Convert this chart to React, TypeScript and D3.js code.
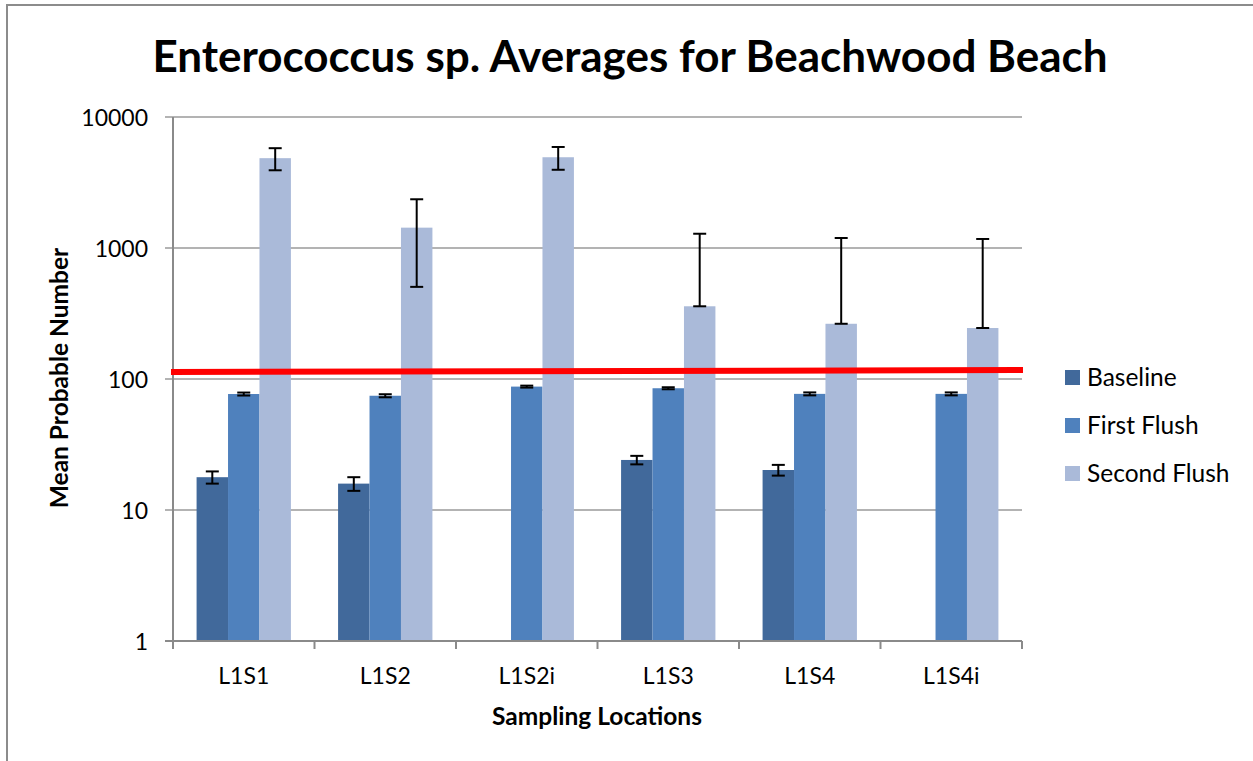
import React, { useEffect, useRef } from "react";
import * as d3 from "d3";

// chart data
const categories = ["L1S1", "L1S2", "L1S2i", "L1S3", "L1S4", "L1S4i"];
const seriesNames = ["Baseline", "First Flush", "Second Flush"];
const baseline = [17.8, 15.9, null, 24.1, 20.2, null];
const baselineErr = [1.9, 1.9, null, 1.8, 1.9, null];
const firstFlush = [76.8, 74.5, 87.5, 85, 77, 77];
const firstFlushErr = [2, 2, 1.5, 1.5, 2, 2];
const secondFlush = [4850, 1430, 4930, 359, 264, 245];
const secondFlushErr = [930, 925, 975, 926, 928, 927];
const yTicks = [1, 10, 100, 1000, 10000];
// red reference line (start value, end value)
const limitLine = [113, 117];

const colors = ["#41699b", "#4f81bd", "#aabad9"];

export default function App() {
  const ref = useRef<SVGSVGElement>(null);

  useEffect(() => {
    const svg = d3.select(ref.current);
    svg.selectAll("*").remove();
    const font = "Lato, 'Open Sans', sans-serif";

    const left = 173, right = 1022, top = 117, bottom = 641;

    // outer border
    svg.append("rect")
      .attr("x", 7).attr("y", 5)
      .attr("width", 1300).attr("height", 800)
      .attr("fill", "white").attr("stroke", "#8c8c8c").attr("stroke-width", 2);

    const x = d3.scaleBand().domain(categories).range([left, right]).paddingInner(0).paddingOuter(0);
    const y = d3.scaleLog().domain([1, 10000]).range([bottom, top]);
    const barW = x.bandwidth() / 4.5;
    const sub = d3.scaleBand().domain(seriesNames)
      .range([0, barW * 3]);

    // gridlines
    svg.selectAll(".grid").data(yTicks).join("line")
      .attr("class", "grid")
      .attr("x1", left - 8).attr("x2", right)
      .attr("y1", d => y(d)).attr("y2", d => y(d))
      .attr("stroke", "#9a9a9a").attr("stroke-width", 1.5);

    // y axis line
    svg.append("line")
      .attr("x1", left).attr("x2", left).attr("y1", top).attr("y2", bottom)
      .attr("stroke", "#8a8a8a").attr("stroke-width", 2);

    svg.selectAll(".ylab").data(yTicks).join("text")
      .attr("class", "ylab")
      .attr("x", 148).attr("y", d => y(d) + 8.5)
      .attr("text-anchor", "end")
      .attr("font-family", font).attr("font-size", 23)
      .text(d => String(d));

    const values = [baseline, firstFlush, secondFlush];
    const errs = [baselineErr, firstFlushErr, secondFlushErr];

    const bars: { cat: string; s: number; v: number; e: number | null }[] = [];
    categories.forEach((c, i) => {
      values.forEach((arr, s) => {
        const v = arr[i];
        if (v != null) bars.push({ cat: c, s, v, e: errs[s][i] });
      });
    });

    const bx = (d: { cat: string; s: number }) =>
      (x(d.cat) as number) + (x.bandwidth() - barW * 3) / 2 + (sub(seriesNames[d.s]) as number);

    svg.selectAll(".bar").data(bars).join("rect")
      .attr("class", "bar")
      .attr("x", d => bx(d))
      .attr("width", barW)
      .attr("y", d => y(d.v))
      .attr("height", d => bottom - y(d.v))
      .attr("fill", d => colors[d.s]);

    // x axis
    svg.append("line")
      .attr("x1", left - 8).attr("x2", right).attr("y1", bottom).attr("y2", bottom)
      .attr("stroke", "#8a8a8a").attr("stroke-width", 2);
    const xTickPos = categories.map(c => x(c) as number).concat([right]);
    svg.selectAll(".xtick").data(xTickPos).join("line")
      .attr("class", "xtick")
      .attr("x1", d => d).attr("x2", d => d)
      .attr("y1", bottom).attr("y2", bottom + 8)
      .attr("stroke", "#8a8a8a").attr("stroke-width", 2);
    svg.selectAll(".xlab").data(categories).join("text")
      .attr("class", "xlab")
      .attr("x", d => (x(d) as number) + x.bandwidth() / 2)
      .attr("y", 684)
      .attr("text-anchor", "middle")
      .attr("font-family", font).attr("font-size", 23)
      .text(d => d);

    // error bars
    const eb = bars.filter(d => d.e != null);
    const lo = (d: { v: number; e: number | null }) => (d.v - (d.e as number) > 0 ? d.v - (d.e as number) : d.v);
    const hi = (d: { v: number; e: number | null }) => d.v + (d.e as number);
    const cx = (d: { cat: string; s: number }) => bx(d) + barW / 2;
    const g = svg.append("g").attr("stroke", "black").attr("stroke-width", 2);
    g.selectAll(".evert").data(eb).join("line")
      .attr("x1", cx).attr("x2", cx)
      .attr("y1", d => y(lo(d))).attr("y2", d => y(hi(d)));
    g.selectAll(".ecapt").data(eb).join("line")
      .attr("x1", d => cx(d) - 6.5).attr("x2", d => cx(d) + 6.5)
      .attr("y1", d => y(hi(d))).attr("y2", d => y(hi(d)));
    g.selectAll(".ecapb").data(eb).join("line")
      .attr("x1", d => cx(d) - 6.5).attr("x2", d => cx(d) + 6.5)
      .attr("y1", d => y(lo(d))).attr("y2", d => y(lo(d)));

    // red limit line
    svg.append("line")
      .attr("x1", left - 2).attr("x2", right + 1)
      .attr("y1", y(limitLine[0])).attr("y2", y(limitLine[1]))
      .attr("stroke", "#ff0000").attr("stroke-width", 6);

    // legend
    const lg = svg.selectAll(".leg").data(seriesNames).join("g")
      .attr("class", "leg")
      .attr("transform", (d, i) => `translate(1065, ${370 + i * 48})`);
    lg.append("rect").attr("width", 15).attr("height", 15)
      .attr("fill", (d, i) => colors[i]);
    lg.append("text")
      .attr("x", 22).attr("y", 16)
      .attr("font-family", font).attr("font-size", 24.5)
      .text(d => d);

    // titles
    svg.append("text")
      .attr("x", 630).attr("y", 72)
      .attr("text-anchor", "middle")
      .attr("font-family", font).attr("font-weight", "bold").attr("font-size", 44)
      .text("Enterococcus sp. Averages for Beachwood Beach");
    svg.append("text")
      .attr("x", 597).attr("y", 725)
      .attr("text-anchor", "middle")
      .attr("font-family", font).attr("font-weight", "bold").attr("font-size", 24.5)
      .text("Sampling Locations");
    svg.append("text")
      .attr("transform", "translate(68, 378) rotate(-90)")
      .attr("text-anchor", "middle")
      .attr("font-family", font).attr("font-weight", "bold").attr("font-size", 24.5)
      .text("Mean Probable Number");
  }, []);

  return (
    <svg ref={ref} width={1253} height={761}
      style={{ position: "absolute", left: 0, top: 0, display: "block", background: "white" }} />
  );
}
